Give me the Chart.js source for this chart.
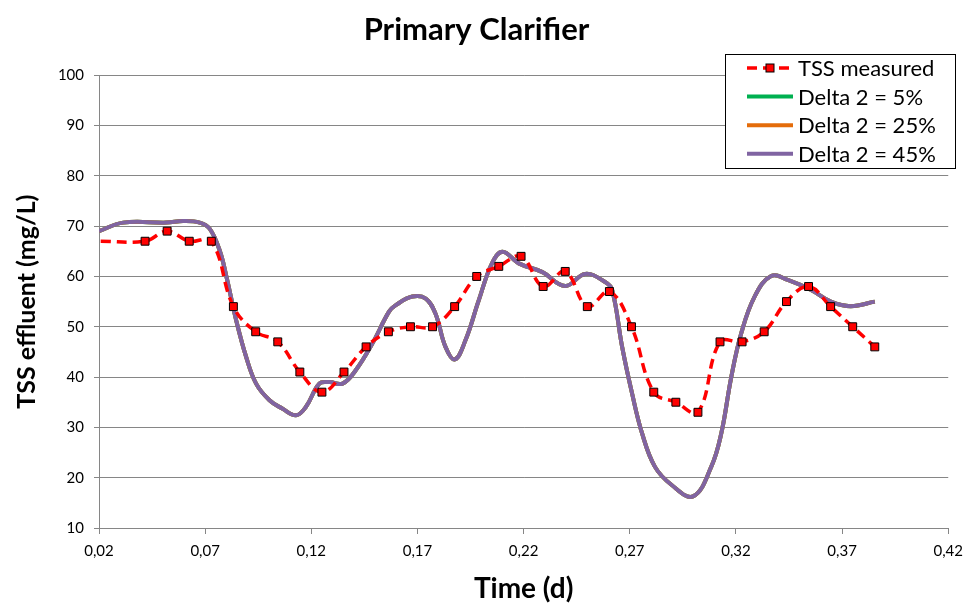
<!DOCTYPE html>
<html>
<head>
<meta charset="utf-8">
<script src="https://cdn.jsdelivr.net/npm/chart.js@4/dist/chart.umd.min.js"></script>
<style>
  html, body { margin: 0; padding: 0; background: #fff; }
  #wrap { width: 971px; height: 606px; }
</style>
</head>
<body>
<div id="wrap"><canvas id="clarifierChart" width="971" height="606"></canvas></div>
<script>
// measured TSS in the effluent, every 15 min
const measuredTime = [0.0208, 0.0417, 0.0521, 0.0625, 0.0729, 0.0833, 0.0938, 0.1042, 0.1146, 0.125,
    0.1354, 0.1458, 0.1563, 0.1667, 0.1771, 0.1875, 0.1979, 0.2083, 0.2188, 0.2292,
    0.2396, 0.25, 0.2604, 0.2708, 0.2813, 0.2917, 0.3021, 0.3125, 0.3229, 0.3333,
    0.3438, 0.3542, 0.3646, 0.375, 0.3854];
const measuredTss = [67, 67, 69, 67, 67, 54, 49, 47, 41, 37,
    41, 46, 49, 50, 50, 54, 60, 62, 64, 58,
    61, 54, 57, 50, 37, 35, 33, 47, 47, 49,
    55, 58, 54, 50, 46];

// simulated effluent; the three Delta 2 runs lie on top of each other
const modelTime = [0.0200, 0.0314, 0.0518, 0.0596, 0.0674, 0.0721, 0.0768, 0.0800, 0.0846, 0.0893,
    0.0940, 0.1003, 0.1065, 0.1128, 0.1175, 0.1238, 0.1285, 0.1347, 0.1410, 0.1488,
    0.1566, 0.1598, 0.1676, 0.1739, 0.1785, 0.1832, 0.1876, 0.1926, 0.1989, 0.2051,
    0.2101, 0.2177, 0.2286, 0.2396, 0.2490, 0.2584, 0.2617, 0.2664, 0.2711, 0.2758,
    0.2818, 0.2896, 0.2998, 0.3084, 0.3131, 0.3178, 0.3225, 0.3288, 0.3366, 0.3444,
    0.3554, 0.3647, 0.3741, 0.3854];
const delta5 = [69, 70.7, 70.7, 71, 70.7, 69.5, 65.2, 60, 51.3, 44,
    38.7, 35.4, 33.7, 32.4, 34.1, 38.7, 39, 38.7, 41.4, 46.7,
    53, 54.3, 56, 55.6, 52.6, 46, 43.5, 47.3, 55.3, 62.6,
    64.9, 62.6, 60.9, 58.1, 60.5, 58.9, 57.3, 46, 36.7, 28.8,
    22.2, 18.6, 16.3, 22.2, 28.8, 40, 48.7, 56, 60.1, 59.3,
    57.3, 55, 54.1, 55];
const delta25 = delta5.slice();
const delta45 = delta5.slice();

const seriesLabels = ["TSS measured", "Delta 2 = 5%", "Delta 2 = 25%", "Delta 2 = 45%"];
const xTicks = [0.02, 0.07, 0.12, 0.17, 0.22, 0.27, 0.32, 0.37, 0.42];
const yTicks = [10, 20, 30, 40, 50, 60, 70, 80, 90, 100];

const FONT = "Lato, 'Open Sans', sans-serif";
const GRID = "#868686";

function toPoints(xs, ys) {
    return xs.map((x, i) => ({ x: x, y: ys[i] }));
}

// legend box drawn inside the plot, top right
const boxLegend = {
    id: "boxLegend",
    afterDraw(chart) {
        const ctx = chart.ctx;
        const left = 725, top = 54, w = 230, h = 114;
        ctx.save();
        ctx.fillStyle = "#fff";
        ctx.fillRect(left, top, w, h);
        ctx.strokeStyle = "#000";
        ctx.lineWidth = 1;
        ctx.strokeRect(left + 0.5, top + 0.5, w, h);
        chart.data.datasets.forEach((ds, i) => {
            const y = top + 14 + i * 28.6;
            ctx.strokeStyle = ds.borderColor;
            ctx.lineWidth = ds.borderWidth;
            ctx.setLineDash(ds.borderDash || []);
            ctx.beginPath();
            ctx.moveTo(747, y);
            ctx.lineTo(793, y);
            ctx.stroke();
            ctx.setLineDash([]);
            if (ds.pointRadius) {
                ctx.fillStyle = ds.pointBackgroundColor;
                ctx.fillRect(766, y - 4, 8, 8);
                ctx.strokeStyle = "#000";
                ctx.lineWidth = 1;
                ctx.strokeRect(766, y - 4, 8, 8);
            }
            ctx.fillStyle = "#000";
            ctx.font = "22px " + FONT;
            ctx.textBaseline = "middle";
            ctx.fillText(ds.label, 798, y + 1);
        });
        ctx.restore();
    }
};

new Chart(document.getElementById("clarifierChart"), {
    type: "line",
    data: {
        datasets: [
            {
                label: seriesLabels[0],
                data: toPoints(measuredTime, measuredTss),
                borderColor: "#ff0000",
                borderWidth: 3.5,
                borderDash: [10, 6],
                tension: 0.4,
                pointStyle: "rect",
                pointRadius: ctx => ctx.dataIndex === 0 ? 0 : 5.6,
                pointBackgroundColor: "#ff0000",
                pointBorderColor: "#000",
                pointBorderWidth: 1,
                order: 0
            },
            {
                label: seriesLabels[1],
                data: toPoints(modelTime, delta5),
                borderColor: "#00b050",
                borderWidth: 4,
                pointRadius: 0,
                tension: 0.4,
                order: 3
            },
            {
                label: seriesLabels[2],
                data: toPoints(modelTime, delta25),
                borderColor: "#e46c0a",
                borderWidth: 4,
                pointRadius: 0,
                tension: 0.4,
                order: 2
            },
            {
                label: seriesLabels[3],
                data: toPoints(modelTime, delta45),
                borderColor: "#8064a2",
                borderWidth: 4,
                pointRadius: 0,
                tension: 0.4,
                order: 1
            }
        ]
    },
    options: {
        responsive: false,
        animation: false,
        layout: { padding: { left: 0, right: 18, top: 0, bottom: 0 } },
        plugins: {
            legend: { display: false },
            tooltip: { enabled: false },
            title: {
                display: true,
                text: "Primary Clarifier",
                color: "#000",
                font: { family: FONT, size: 31, weight: "bold" },
                padding: { top: 11, bottom: 27 }
            }
        },
        scales: {
            x: {
                type: "linear",
                min: 0.02,
                max: 0.42,
                afterBuildTicks: scale => { scale.ticks = xTicks.map(v => ({ value: v })); },
                afterFit: scale => { scale.height = 78; },
                grid: { drawOnChartArea: false, color: GRID, tickLength: 6 },
                border: { color: GRID },
                ticks: {
                    color: "#000",
                    font: { family: FONT, size: 15 },
                    padding: 8,
                    maxRotation: 0,
                    callback: v => v.toFixed(2).replace(".", ",")
                },
                title: {
                    display: true,
                    text: "Time (d)",
                    color: "#000",
                    font: { family: FONT, size: 28, weight: "bold" },
                    padding: { top: 4, bottom: 0 }
                }
            },
            y: {
                min: 10,
                max: 100,
                afterBuildTicks: scale => { scale.ticks = yTicks.map(v => ({ value: v })); },
                afterFit: scale => { scale.width = 99; },
                grid: { color: GRID, tickLength: 5 },
                border: { color: GRID },
                ticks: {
                    color: "#000",
                    font: { family: FONT, size: 15 },
                    padding: 10
                },
                title: {
                    display: true,
                    text: "TSS effluent (mg/L)",
                    color: "#000",
                    font: { family: FONT, size: 25, weight: "bold" },
                    padding: { top: 12, bottom: 0 }
                }
            }
        }
    },
    plugins: [boxLegend]
});
</script>
</body>
</html>
